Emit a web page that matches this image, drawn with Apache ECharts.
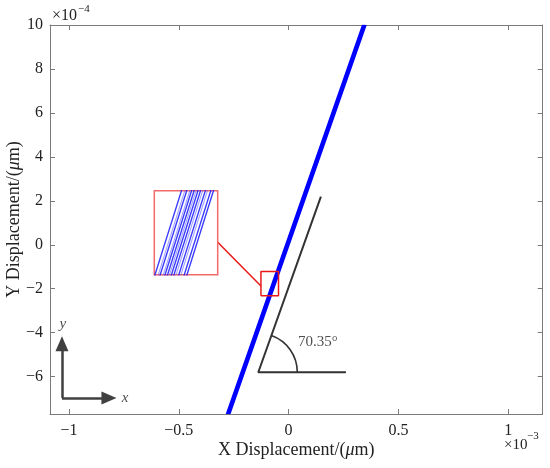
<!DOCTYPE html>
<html><head><meta charset="utf-8">
<script src="https://cdn.jsdelivr.net/npm/echarts@6/dist/echarts.min.js"></script>
<style>html,body{margin:0;padding:0;background:#fff}#c{width:550px;height:468px}</style>
</head><body><div id="c"></div>
<script>
// ---- data (x in units of 1e-3 um, y in units of 1e-4 um) ----
const xRange = [-1.0865, 1.157];
const yRange = [-7.7, 10];
const xTicks = [-1, -0.5, 0, 0.5, 1];
const yTicks = [-6, -4, -2, 0, 2, 4, 6, 8, 10];
// bundle of displacement traces: x at y = -7.7 and x at y = 10
const traceY = [-7.7, 10];
const traceBottomX = [-0.2835,-0.2818,-0.2808,-0.2792,-0.2783,-0.2770,-0.2760,-0.2750,-0.2737,-0.2726,-0.2712,-0.2701,-0.2684,-0.2670];
const traceTopX    = [ 0.3365, 0.3382, 0.3392, 0.3408, 0.3417, 0.3430, 0.3440, 0.3450, 0.3463, 0.3474, 0.3488, 0.3499, 0.3516, 0.3530];
const traceFaint   = [0,1,0,1,0,0,1,0,0,1,0,1,0,0];
// zoom box and inset view
const zoomBoxX = [-0.126, -0.046];
const zoomBoxY = [-2.32, -1.22];
const insetX = [-0.0842, -0.0515];
const insetY = [-2.0, -1.61];
const connectorPts = [[-0.325, 0.141], [-0.126, -1.874]];
// angle annotation
const angleVertex = [-0.138, -5.80];
const angleArmEnd = [0.147, 2.19];
const angleBaseEnd = [0.261, -5.80];
const angleDeg = 70.35;
const angleLabelPos = [0.133, -4.41];
// coordinate arrows
const arrowOrigin = [-1.032, -6.97];
const arrowYTip = [-1.032, -4.50];
const arrowXTip = [-0.818, -6.97];
const arrowYLabelPos = [-1.028, -3.62];
const arrowXLabelPos = [-0.745, -6.97];

const FONT = 'Liberation Serif';
const minus = v => String(v).replace('-', '\u2212');

function traceData(faintFlag) {
  const out = [];
  for (let i = 0; i < traceBottomX.length; i++) {
    if (faintFlag !== undefined && traceFaint[i] !== faintFlag) continue;
    out.push([traceBottomX[i], traceY[0]], [traceTopX[i], traceY[1]], [null, null]);
  }
  return out;
}

const axisCommon = {
  axisLine: { show: true, onZero: false, lineStyle: { color: '#7a7a7a', width: 1 } },
  splitLine: { show: false },
  axisTick: { inside: true, length: 5, lineStyle: { color: '#7a7a7a' } }
};

const chart = echarts.init(document.getElementById('c'), null, { renderer: 'canvas' });
chart.setOption({
  animation: false,
  backgroundColor: '#fff',
  grid: [
    { left: 50, top: 25, right: 7.3, bottom: 54, show: false, containLabel: false, outerBoundsMode: 'none' },
    { left: 154.3, top: 190.7, width: 63.4, height: 84, show: true, containLabel: false, outerBoundsMode: 'none',
      backgroundColor: '#fff', borderColor: '#f46a6a', borderWidth: 1.5, z: 5 }
  ],
  xAxis: [
    Object.assign({}, axisCommon, {
      gridIndex: 0, type: 'value', min: xRange[0], max: xRange[1], position: 'bottom',
      name: '{n|X Displacement/(}{i|\u03bc}{n|m)}', nameLocation: 'middle', nameGap: 27, nameMoveOverlap: false,
      nameTextStyle: { rich: { n: { fontFamily: FONT, fontSize: 18, color: '#222' },
                               i: { fontFamily: FONT, fontSize: 18, fontStyle: 'italic', color: '#222' } } },
      axisTick: Object.assign({}, axisCommon.axisTick, { customValues: xTicks }),
      axisLabel: { customValues: xTicks, formatter: minus, fontFamily: FONT, fontSize: 16, color: '#222', margin: 9 }
    }),
    Object.assign({}, axisCommon, {
      gridIndex: 0, type: 'value', min: xRange[0], max: xRange[1], position: 'top',
      axisTick: Object.assign({}, axisCommon.axisTick, { customValues: xTicks }),
      axisLabel: { show: false }
    }),
    { gridIndex: 1, type: 'value', min: insetX[0], max: insetX[1], show: false }
  ],
  yAxis: [
    Object.assign({}, axisCommon, {
      gridIndex: 0, type: 'value', min: yRange[0], max: yRange[1], position: 'left',
      name: '{n|Y Displacement/(}{i|\u03bc}{n|m)}', nameLocation: 'middle', nameGap: 27, nameMoveOverlap: false,
      nameTextStyle: { rich: { n: { fontFamily: FONT, fontSize: 18, color: '#222' },
                               i: { fontFamily: FONT, fontSize: 18, fontStyle: 'italic', color: '#222' } } },
      axisTick: Object.assign({}, axisCommon.axisTick, { customValues: yTicks }),
      axisLabel: { customValues: yTicks, formatter: minus, fontFamily: FONT, fontSize: 16, color: '#222', margin: 7 }
    }),
    Object.assign({}, axisCommon, {
      gridIndex: 0, type: 'value', min: yRange[0], max: yRange[1], position: 'right',
      axisTick: Object.assign({}, axisCommon.axisTick, { customValues: yTicks }),
      axisLabel: { show: false }
    }),
    { gridIndex: 1, type: 'value', min: insetY[0], max: insetY[1], show: false }
  ],
  series: [
    { type: 'line', xAxisIndex: 0, yAxisIndex: 0, data: traceData(), symbol: 'none',
      connectNulls: false, lineStyle: { color: '#0000ff', width: 1.2 }, z: 3 },
    // inset traces
    { type: 'line', xAxisIndex: 2, yAxisIndex: 2, data: traceData(0), symbol: 'none',
      connectNulls: false, lineStyle: { color: '#1a1aff', width: 1.4, opacity: 0.85 }, z: 6 },
    { type: 'line', xAxisIndex: 2, yAxisIndex: 2, data: traceData(1), symbol: 'none',
      connectNulls: false, lineStyle: { color: '#4a4aff', width: 1.1, opacity: 0.5 }, z: 6 },
    // zoom box
    { type: 'line', xAxisIndex: 0, yAxisIndex: 0, symbol: 'none', z: 4,
      data: [[zoomBoxX[0], zoomBoxY[0]], [zoomBoxX[1], zoomBoxY[0]], [zoomBoxX[1], zoomBoxY[1]],
             [zoomBoxX[0], zoomBoxY[1]], [zoomBoxX[0], zoomBoxY[0]]],
      lineStyle: { color: '#e81818', width: 1.5 } },
    { type: 'line', xAxisIndex: 0, yAxisIndex: 0, symbol: 'none', z: 4, data: connectorPts,
      lineStyle: { color: '#e81818', width: 1.5 } },
    // angle arms
    { type: 'line', xAxisIndex: 0, yAxisIndex: 0, symbol: 'none', z: 3,
      data: [angleArmEnd, angleVertex, angleBaseEnd],
      lineStyle: { color: '#333', width: 2 } },
    // angle arc
    { type: 'custom', xAxisIndex: 0, yAxisIndex: 0, data: [angleVertex], z: 3,
      renderItem: function (params, api) {
        const p = api.coord([api.value(0), api.value(1)]);
        return { type: 'arc', shape: { cx: p[0], cy: p[1], r: 39,
                   startAngle: -angleDeg * Math.PI / 180, endAngle: 0, clockwise: true },
                 style: { stroke: '#333', fill: null, lineWidth: 1.6 } };
      } },
    // text labels in data coordinates
    { type: 'scatter', xAxisIndex: 0, yAxisIndex: 0, symbolSize: 0, z: 7,
      data: [
        { value: angleLabelPos, label: { show: true, formatter: angleDeg.toFixed(2) + '\u00b0', position: 'inside',
          fontFamily: FONT, fontSize: 15, color: '#222' } },
        { value: arrowYLabelPos, label: { show: true, formatter: 'y', position: 'inside',
          fontFamily: FONT, fontSize: 15, fontStyle: 'italic', color: '#222' } },
        { value: arrowXLabelPos, label: { show: true, formatter: 'x', position: 'inside',
          fontFamily: FONT, fontSize: 15, fontStyle: 'italic', color: '#222' } }
      ] },
    // coordinate arrows
    { type: 'line', xAxisIndex: 0, yAxisIndex: 0, data: [], symbol: 'none',
      markLine: { silent: true, symbol: ['none', 'triangle'], symbolSize: [13, 15],
        label: { show: false },
        lineStyle: { color: '#404040', width: 2.5, type: 'solid' },
        data: [
          [{ coord: arrowOrigin }, { coord: arrowYTip }],
          [{ coord: arrowOrigin }, { coord: arrowXTip }]
        ] } }
  ],
  graphic: [
    { type: 'text', left: 52, top: 8, style: { text: '\u00d710', fontFamily: FONT, fontSize: 16, fill: '#222' } },
    { type: 'text', left: 78, top: 4, style: { text: '\u22124', fontFamily: FONT, fontSize: 11, fill: '#222' } },
    { type: 'text', left: 504, top: 438, style: { text: '\u00d710', fontFamily: FONT, fontSize: 15, fill: '#222' } },
    { type: 'text', left: 527, top: 431, style: { text: '\u22123', fontFamily: FONT, fontSize: 11, fill: '#222' } }
  ]
});
</script></body></html>
